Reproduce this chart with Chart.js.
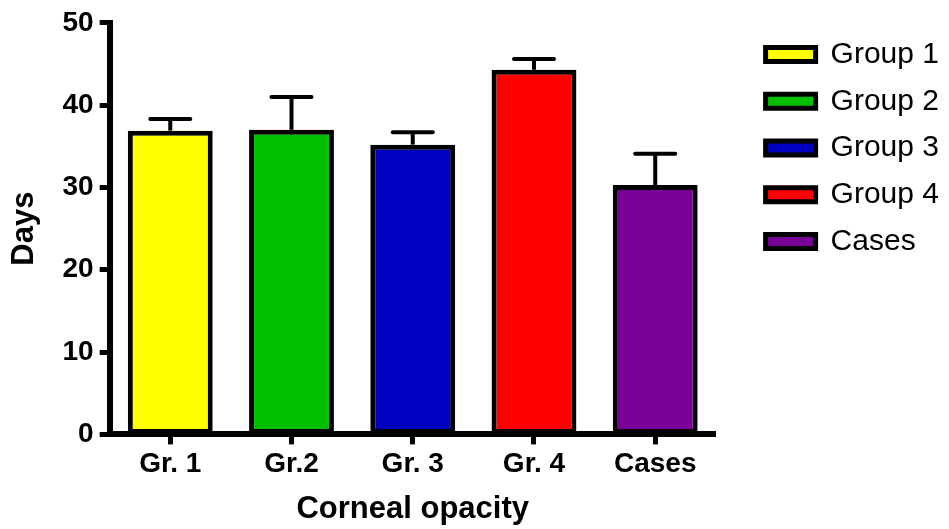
<!DOCTYPE html>
<html>
<head>
<meta charset="utf-8">
<script src="https://cdn.jsdelivr.net/npm/chart.js@4.4.1/dist/chart.umd.min.js"></script>
<style>
  body { margin: 0; background: #fff; }
</style>
</head>
<body>
<canvas id="myChart" width="949" height="529"></canvas>
<script>
const categories = ["Gr. 1", "Gr.2", "Gr. 3", "Gr. 4", "Cases"];
const legendNames = ["Group 1", "Group 2", "Group 3", "Group 4", "Cases"];
const meanDays = [36.9, 37.0, 35.2, 44.3, 30.3];
const errDays = [1.4, 4.0, 1.5, 1.3, 3.8];
const yTicks = [0, 10, 20, 30, 40, 50];

const barColors = ["#ffff00", "#00c000", "#0000c0", "#ff0000", "#780096"];
const fam = "'Liberation Sans', Arial, sans-serif";

const ctx = document.getElementById("myChart").getContext("2d");

// error bars (mean + SEM, upper only)
const errorBars = {
    id: "errorBars",
    beforeDatasetsDraw(chart) {
        const c = chart.ctx;
        const y = chart.scales.y;
        const meta = chart.getDatasetMeta(0);
        c.save();
        c.strokeStyle = "#000";
        meta.data.forEach((bar, i) => {
            const top = y.getPixelForValue(meanDays[i] + errDays[i]);
            c.lineWidth = 4;
            c.lineCap = "butt";
            c.beginPath();
            c.moveTo(bar.x, bar.y);
            c.lineTo(bar.x, top);
            c.stroke();
            c.lineCap = "round";
            c.beginPath();
            c.moveTo(bar.x - 20, top);
            c.lineTo(bar.x + 20, top);
            c.stroke();
        });
        c.restore();
    }
};

const data = {
    labels: categories,
    datasets: [
        {
            data: meanDays,
            backgroundColor: barColors,
            borderColor: "#000",
            borderWidth: 5,
            borderSkipped: false,
            barPercentage: 0.70,
            categoryPercentage: 1.0
        }
    ]
};

const config = {
    type: "bar",
    data: data,
    plugins: [errorBars],
    options: {
        responsive: false,
        animation: false,
        devicePixelRatio: 1,
        layout: { padding: { top: 9 } },
        plugins: {
            tooltip: { enabled: false },
            legend: {
                position: "right",
                align: "start",
                fullSize: false,
                maxWidth: 300,
                labels: {
                    color: "#000",
                    boxWidth: 50,
                    boxHeight: 14,
                    padding: 16.75,
                    font: { family: fam, size: 30 },
                    generateLabels: () => legendNames.map((t, i) => ({
                        text: t,
                        fillStyle: barColors[i],
                        strokeStyle: "#000",
                        lineWidth: 5,
                        hidden: false,
                        index: i
                    }))
                }
            }
        },
        scales: {
            x: {
                grid: { display: true, offset: false, drawOnChartArea: false, tickLength: 10, tickWidth: 5, tickColor: "#000" },
                border: { display: true, color: "#000", width: 6 },
                ticks: { color: "#000", padding: 3, font: { family: fam, size: 28, weight: "bold" } },
                title: {
                    display: true,
                    text: "Corneal opacity",
                    color: "#000",
                    font: { family: fam, size: 31, weight: "bold" },
                    padding: { top: 6.8, bottom: 1 }
                }
            },
            y: {
                min: 0,
                max: 50,
                afterBuildTicks: (s) => { s.ticks = yTicks.map(v => ({ value: v })); },
                grid: { display: true, drawOnChartArea: false, tickLength: 10, tickWidth: 5, tickColor: "#000" },
                border: { display: true, color: "#000", width: 6 },
                ticks: { color: "#000", padding: 6, font: { family: fam, size: 28, weight: "bold" } },
                title: {
                    display: true,
                    text: "Days",
                    color: "#000",
                    font: { family: fam, size: 31, weight: "bold" },
                    padding: { top: 6, bottom: 13.3 }
                }
            },
            // empty spacer between plot and legend
            gap: {
                type: "linear",
                position: "right",
                display: true,
                grid: { display: false },
                ticks: { display: false },
                border: { display: false },
                afterFit: (s) => { s.width = 33; }
            }
        }
    }
};

const myChart = new Chart(ctx, config);
</script>
</body>
</html>
